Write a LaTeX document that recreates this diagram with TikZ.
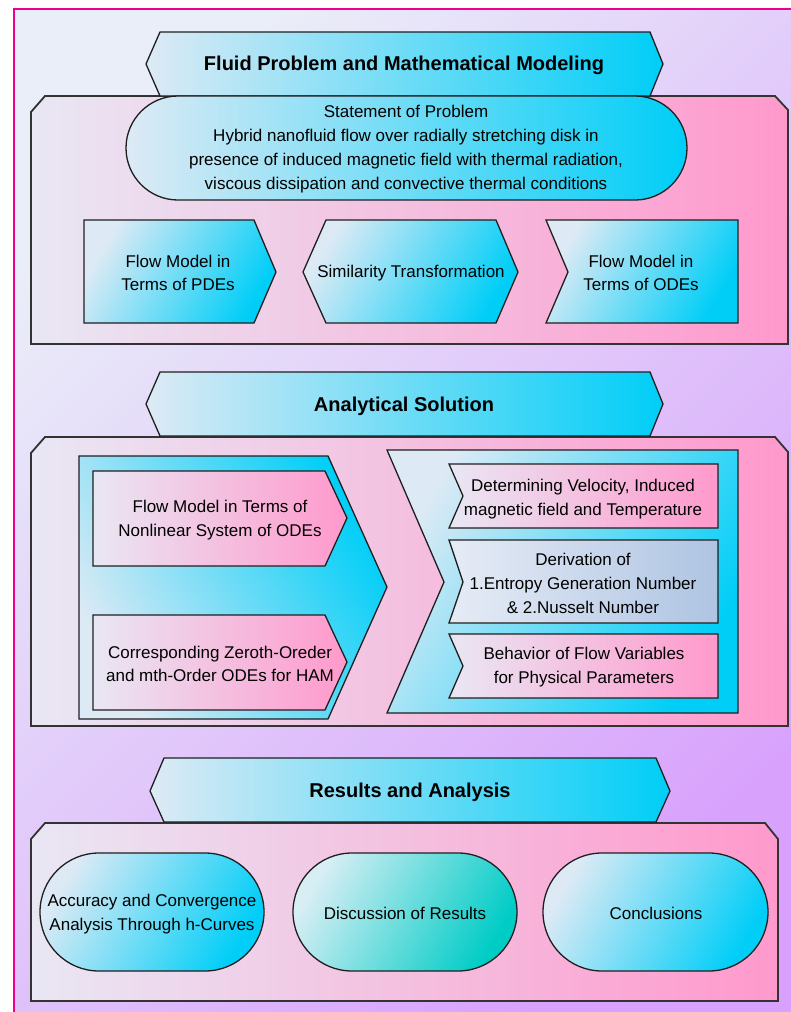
\documentclass[tikz,border=0pt]{standalone}
\usepackage{fontspec}
\setmainfont{Liberation Sans}
\definecolor{bgL}{HTML}{EAEEF8}
\definecolor{bgR}{HTML}{D8A2FC}
\definecolor{cyanL}{HTML}{DDEAF5}
\definecolor{cyanM}{HTML}{00DAF7}
\definecolor{cyanR}{HTML}{00CEF7}
\definecolor{panelL}{HTML}{E9E7F4}
\definecolor{panelM}{HTML}{FFC6E2}
\definecolor{panelR}{HTML}{FF99CC}
\definecolor{derL}{HTML}{E6ECF6}
\definecolor{derR}{HTML}{AEC4E2}
\definecolor{tealL}{HTML}{D6EEF4}
\definecolor{tealM}{HTML}{30D4D8}
\definecolor{tealR}{HTML}{00CCC6}
\begin{document}
\begin{tikzpicture}[x=1pt,y=-1pt,
  every node/.style={font=\fontsize{17}{23.5}\selectfont,align=center,inner sep=0pt},
  headtext/.style={font=\fontsize{20}{24}\selectfont\bfseries},
  shapeline/.style={draw=black!88,line width=1.3pt},
  cyanfill/.style={shapeline,left color=cyanL,middle color=cyanM,right color=cyanR},
  cyandiag/.style={cyanfill,shading angle=60},
  panelfill/.style={draw=black!80,line width=1.8pt,left color=panelL,middle color=panelM,right color=panelR},
  pinkfill/.style={shapeline,left color=panelL,middle color=panelM,right color=panelR},
  derfill/.style={shapeline,left color=derL,right color=derR},
  tealfill/.style={shapeline,left color=tealL,middle color=tealM,right color=tealR,shading angle=60}]
\useasboundingbox (0,0) rectangle (791,1012);
% background
\shade[top color=bgL,bottom color=bgR,shading angle=45] (14,9) rectangle (791,1012);
\draw[magenta,line width=2pt] (14,1012) -- (14,9) -- (791,9);

% Fluid problem and modeling
\begin{scope}
\draw[panelfill] (45,96) -- (775,96) -- (788,110) -- (788,344) -- (31,344) -- (31,112) -- cycle;
\draw[cyanfill] (160,32) -- (650,32) -- (663,64) -- (650,96) -- (160,96) -- (146,64) -- cycle;
\node[headtext] (head1) at (404,65) {Fluid Problem and Mathematical Modeling};
\draw[cyanfill,rounded corners=52pt] (126,96) rectangle (687,200);
\node[font=\fontsize{17}{24}\selectfont] (stmt) at (406,149) {Statement of Problem\\Hybrid nanofluid flow over radially stretching disk in\\presence of induced magnetic field with thermal radiation,\\viscous dissipation and convective thermal conditions};
\draw[cyandiag] (84,220) -- (254,220) -- (276,272) -- (254,323) -- (84,323) -- cycle;
\node (pde) at (178,273) {Flow Model in\\Terms of PDEs};
\draw[cyandiag] (303,272) -- (326,220) -- (496,220) -- (518,272) -- (496,323) -- (326,323) -- cycle;
\node (simtr) at (411,273) {Similarity Transformation};
\draw[cyandiag] (546,220) -- (738,220) -- (738,323) -- (546,323) -- (568,272) -- cycle;
\node (ode) at (641,273) {Flow Model in\\Terms of ODEs};
\end{scope}

% Analytical solution
\begin{scope}
\draw[panelfill] (45,437) -- (775,437) -- (788,452) -- (788,726) -- (31,726) -- (31,453) -- cycle;
\draw[cyanfill] (160,372) -- (650,372) -- (663,404) -- (650,436) -- (160,436) -- (146,404) -- cycle;
\node[headtext] (head2) at (404,406) {Analytical Solution};
\draw[cyanfill,shading angle=120] (79,456) -- (328,456) -- (387,587) -- (328,719) -- (79,719) -- cycle;
\draw[pinkfill] (93,471) -- (325,471) -- (347,518) -- (325,566) -- (93,566) -- cycle;
\node (nonlin) at (220,520) {Flow Model in Terms of\\Nonlinear System of ODEs};
\draw[pinkfill] (93,615) -- (325,615) -- (347,662) -- (325,710) -- (93,710) -- cycle;
\node (ham) at (220,664) {Corresponding Zeroth-Oreder\\and mth-Order ODEs for HAM};
\draw[cyandiag] (387,450) -- (738,450) -- (738,713) -- (387,713) -- (444,582) -- cycle;
\draw[pinkfill] (449,464) -- (718,464) -- (718,528) -- (449,528) -- (463,496) -- cycle;
\node (velo) at (583,499) {Determining Velocity, Induced\\magnetic field and Temperature};
\draw[derfill] (449,540) -- (718,540) -- (718,623) -- (449,623) -- (463,582) -- cycle;
\node[font=\fontsize{17}{24}\selectfont] (deriv) at (583,583) {Derivation of\\1.Entropy Generation Number\\\& 2.Nusselt Number};
\draw[pinkfill] (449,634) -- (718,634) -- (718,698) -- (449,698) -- (463,666) -- cycle;
\node (behav) at (584,667) {Behavior of Flow Variables\\for Physical Parameters};
\end{scope}

% Results and analysis
\begin{scope}
\draw[panelfill] (45,823) -- (765,823) -- (778,839) -- (778,1001) -- (31,1001) -- (31,839) -- cycle;
\draw[cyanfill] (164,758) -- (656,758) -- (670,791) -- (656,822) -- (164,822) -- (150,791) -- cycle;
\node[headtext] (head3) at (410,792) {Results and Analysis};
\draw[cyandiag,rounded corners=59pt] (40,853) rectangle (264,971);
\node (accur) at (152,914) {Accuracy and Convergence\\Analysis Through h-Curves};
\draw[tealfill,rounded corners=59pt] (293,853) rectangle (517,971);
\node (discus) at (405,913) {Discussion of Results};
\draw[cyandiag,rounded corners=59pt] (543,853) rectangle (768,971);
\node (concl) at (656,913) {Conclusions};
\end{scope}
\end{tikzpicture}
\end{document}
